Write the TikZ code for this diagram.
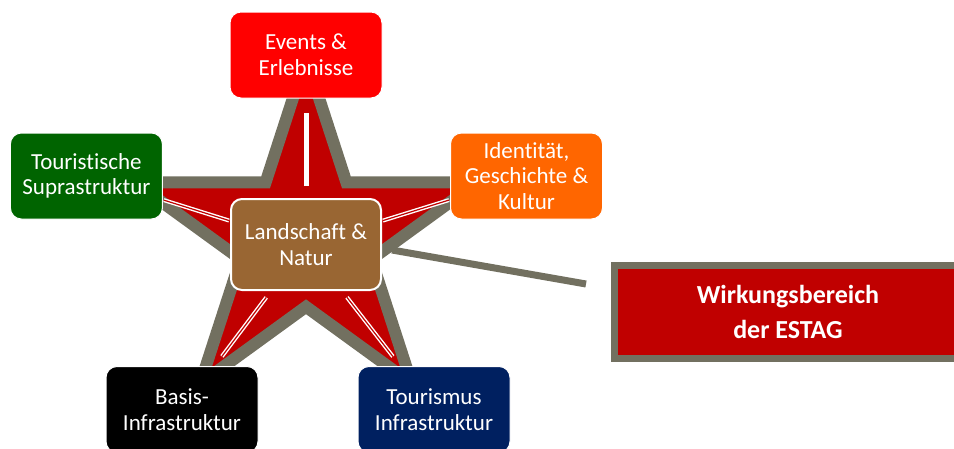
\documentclass[tikz,border=0pt]{standalone}
\usepackage{fontspec}
\setmainfont{Carlito}[Ligatures={NoCommon,NoContextual}]
\definecolor{starred}{HTML}{C00000}
\definecolor{bordergrey}{HTML}{727060}
\definecolor{evred}{HTML}{FF0000}
\definecolor{touri}{HTML}{006400}
\definecolor{ident}{HTML}{FF6600}
\definecolor{navyblue}{HTML}{002060}
\definecolor{brownland}{HTML}{996633}
\begin{document}
\begin{tikzpicture}[x=1pt,y=-1pt,
  topic/.style={rounded corners=11pt, minimum width=152pt, minimum height=86pt,
    inner sep=0pt, align=center, text=white, draw=white, line width=1pt,
    font=\fontsize{23}{25.7}\selectfont},
  whitebar/.style={draw=white, line width=5pt},
  dline/.style={draw=white, double=starred, double distance=1.2pt, line width=1.4pt},
  greyline/.style={draw=bordergrey, line width=7pt}]
\useasboundingbox (0,0) rectangle (954,448);
% connector from star to the box
\coordinate (sa) at (392,250);
\coordinate (se) at (586,284);
\draw[greyline] (sa) -- (se);
% star
\draw[draw=bordergrey, fill=starred, line width=12pt, line join=miter]
  (306,58) -- (346.41,182.38) -- (477.2,182.38) -- (371.39,259.25)
  -- (411.8,383.62) -- (306,306.75) -- (200.2,383.62) -- (240.61,259.25)
  -- (134.8,182.38) -- (265.59,182.38) -- cycle;
% boxes
\node[topic, fill=evred] (E) at (306,55) {Events \&\\Erlebnisse};
\node[topic, fill=touri] (T) at (86.4,176) {Touristische\\Suprastruktur};
\node[topic, fill=ident] (I) at (526.5,176) {Identität,\\Geschichte \&\\Kultur};
\node[topic, fill=black] (B) at (182,409.5) {Basis-\\Infrastruktur};
\node[topic, fill=navyblue] (TI) at (434,409.5) {Tourismus\\Infrastruktur};
\node[topic, fill=brownland, line width=2pt, minimum width=150pt, minimum height=91pt] (L) at (306,244.5) {Landschaft \&\\Natur};
\node[draw=bordergrey, fill=starred, line width=7pt, minimum width=347pt, minimum height=93pt,
  inner sep=0pt, align=center, text=white, font=\bfseries\fontsize{26}{35}\selectfont]
  (W) at (788,312) {Wirkungsbereich\\der ESTAG};
% inner connectors
\draw[whitebar, shorten <=12pt, shorten >=14pt] (L) -- (E);
\draw[dline, shorten <=1pt, shorten >=1pt] (L) -- (T);
\draw[dline, shorten <=1pt, shorten >=1pt] (L) -- (I);
\draw[dline, shorten <=8pt, shorten >=12pt] (L) -- (B);
\draw[dline, shorten <=8pt, shorten >=12pt] (L) -- (TI);
\end{tikzpicture}
\end{document}
